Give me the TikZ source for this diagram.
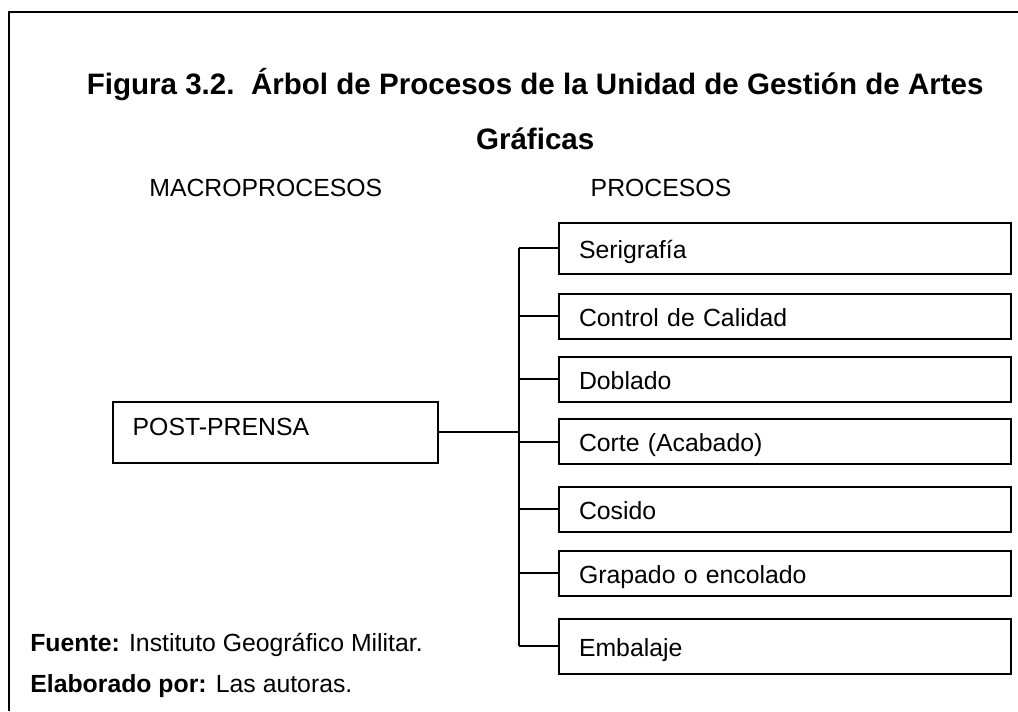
\documentclass[tikz,border=0pt]{standalone}
\usepackage{fontspec}
\setmainfont{Liberation Sans}

\begin{document}
\begin{tikzpicture}[line width=0.9pt,
  txt/.style={font=\fontsize{12}{14}\selectfont},
  proc/.style={draw, txt, anchor=west, minimum height=0.77cm, text width=7.0cm,
    inner xsep=0.34cm, inner ysep=0pt, align=left, text height=0.4cm, text depth=0.05cm}]
  \useasboundingbox (0,0) rectangle (17.31,-12.09);
  % Frame round the figure
  \draw (17.31,-0.20) -- (0.15,-0.20) -- (0.15,-12.09);
  % Title and headings
  \node[font=\bfseries\fontsize{14.3}{26.6}\selectfont, align=center] (title) at (9.10,-1.86)
    {Figura 3.2.~~Árbol de Procesos de la Unidad de Gestión de Artes\\Gráficas};
  \node[txt] (macro) at (4.52,-3.20) {MACROPROCESOS};
  \node[txt] (procesos) at (11.24,-3.20) {PROCESOS};
  % Macroprocess and processes
  \node[draw, txt, anchor=west, minimum height=1.04cm, text width=4.85cm, inner xsep=0.34cm,
    align=left, text depth=0.18cm] (post) at (1.90,-7.35) {POST-PRENSA};
  \node[proc, minimum height=0.87cm] (ser) at (9.49,-4.22) {Serigrafía};
  \node[proc] (ctrl) at (9.49,-5.38) {Control de Calidad};
  \node[proc] (dobl) at (9.49,-6.45) {Doblado};
  \node[proc] (corte) at (9.49,-7.51) {Corte (Acabado)};
  \node[proc] (cosido) at (9.49,-8.66) {Cosido};
  \node[proc] (grap) at (9.49,-9.75) {Grapado o encolado};
  \node[proc, minimum height=0.94cm] (emb) at (9.49,-10.99) {Embalaje};
  \coordinate (trunk) at (8.82,-4.22);
  % Draw the tree connectors
  \draw (post.east) -- (post.east -| trunk);
  \draw (ser.west -| trunk) -- (emb.west -| trunk);
  \draw (ser.west) -- (ser.west -| trunk);
  \draw (ctrl.west) -- (ctrl.west -| trunk);
  \draw (dobl.west) -- (dobl.west -| trunk);
  \draw (corte.west) -- (corte.west -| trunk);
  \draw (cosido.west) -- (cosido.west -| trunk);
  \draw (grap.west) -- (grap.west -| trunk);
  \draw (emb.west) -- (emb.west -| trunk);
  % Source notes
  \node[txt, anchor=base west, inner sep=0pt] (fuente) at (0.50,-11.07)
    {\textbf{Fuente:} Instituto Geográfico Militar.};
  \node[txt, anchor=base west, inner sep=0pt] (elab) at (0.50,-11.78)
    {\textbf{Elaborado por:} Las autoras.};
\end{tikzpicture}
\end{document}
